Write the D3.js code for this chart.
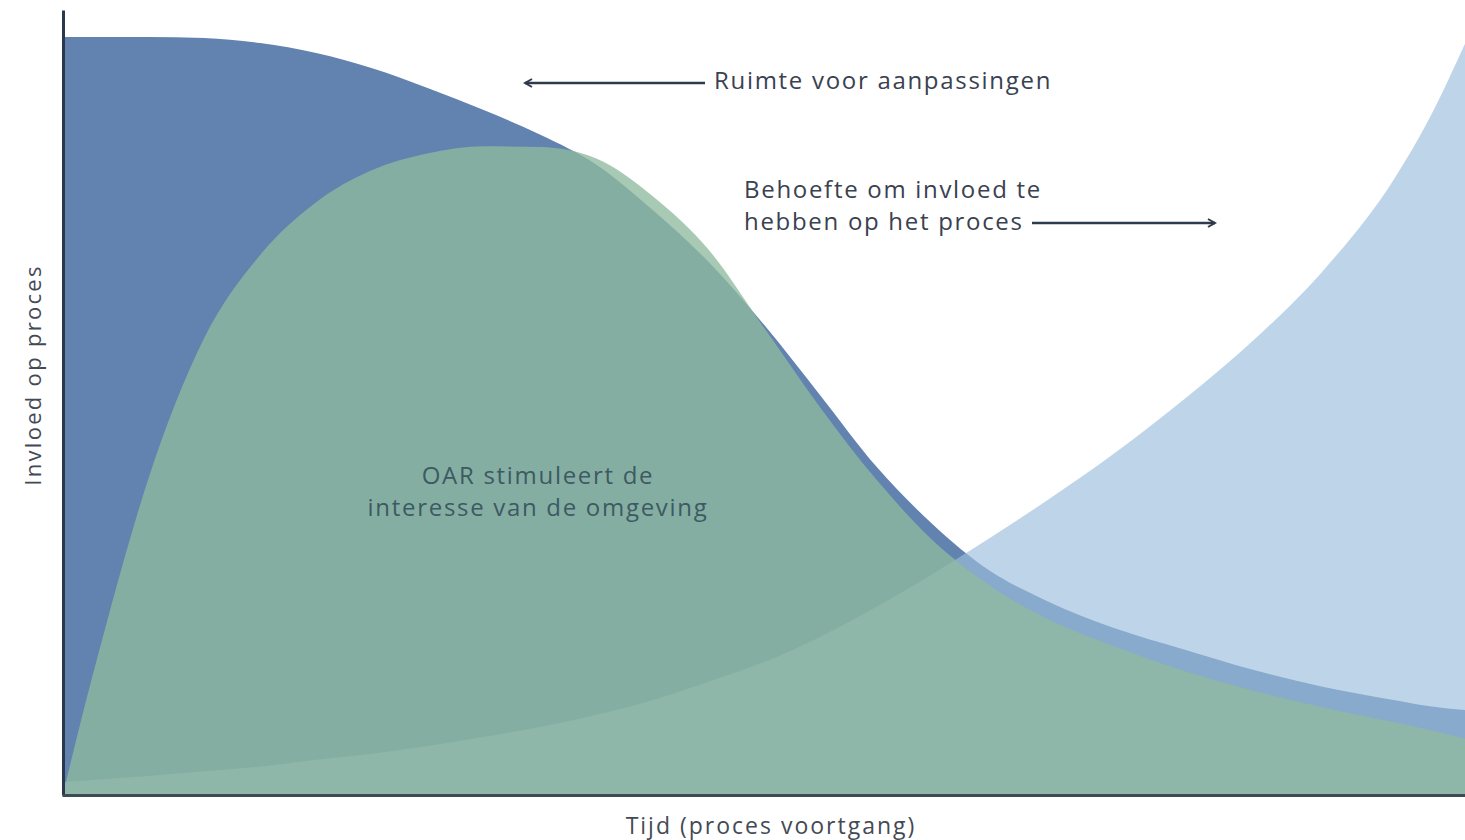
<!DOCTYPE html>
<html>
<head>
<meta charset="utf-8">
<script src="https://cdn.jsdelivr.net/npm/d3@7"></script>
<style>
  body { margin: 0; background: #fff; }
  svg { display: block; }
  text { font-family: "Open Sans", "Noto Sans", sans-serif; }
</style>
</head>
<body>
<div id="chart"></div>
<script>
// process progress (0 = start, 100 = end)
const tijd = [0, 1.5, 3, 6, 10, 14, 18, 22, 26, 30, 34, 38, 42, 46, 50, 54, 58, 62, 66, 70, 75, 80, 85, 90, 95, 97.5, 100]

// room for changes (dark blue)
const ruimte = [99.1, 99.1, 99.1, 99.1, 98.95, 98.3, 97.0, 95.0, 92.4, 89.5, 86.3, 82.4, 76.5, 69.7, 61.4, 52.2, 42.9, 35.4, 29.4, 25.5, 21.8, 19.0, 16.3, 14.1, 12.4, 11.6, 11.1]

// interest stimulated by OAR (green)
const interesse = [0.65, 11.8, 22.2, 41.2, 59.7, 70.6, 77.5, 81.7, 83.9, 84.8, 84.7, 83.2, 78.3, 71.3, 61.0, 50.6, 41.2, 33.3, 27.5, 23.2, 19.4, 16.2, 13.6, 11.4, 9.5, 8.5, 7.4]

// need to influence the process (light blue)
const behoefte = [1.7, 1.9, 2.1, 2.5, 3.1, 3.7, 4.6, 5.4, 6.4, 7.6, 8.9, 10.5, 12.4, 14.8, 17.4, 20.7, 24.6, 28.9, 33.5, 38.3, 44.7, 51.8, 59.6, 68.8, 80.7, 88.6, 98.2]

const width = 1465
const height = 840

const svg = d3.select("#chart")
  .append("svg")
  .attr("width", width)
  .attr("height", height)

const x = d3.scaleLinear().domain([0, 100]).range([64, 1465])
const y = d3.scaleLinear().domain([0, 100]).range([795, 30])

const area_for = (values, curve) => d3.area()
  .x((d, i) => x(tijd[i]))
  .y0(y(0))
  .y1((d) => y(d))
  .curve(curve)(values)

// dark blue bottom layer
svg.append("path")
  .attr("d", area_for(ruimte, d3.curveMonotoneX))
  .style("fill", "#6283b0")

// light blue, see-through
svg.append("path")
  .attr("d", area_for(behoefte, d3.curveMonotoneX))
  .style("fill", "#9cbedc")
  .style("fill-opacity", 0.66)

// green on top
svg.append("path")
  .attr("d", area_for(interesse, d3.curveMonotoneX))
  .style("fill", "#8fba9f")
  .style("fill-opacity", 0.78)

// axes without ticks
const y_axis_scale = y.copy().domain([0, y.invert(10)]).range([795, 10])

const y_axis = svg.append("g")
  .attr("transform", "translate(63,0)")
  .call(d3.axisLeft(y_axis_scale).ticks(0).tickSizeOuter(0))
y_axis.select(".domain")
  .attr("stroke", "#2b3750")
  .attr("stroke-width", 3)

const x_axis = svg.append("g")
  .attr("transform", "translate(0,795)")
  .call(d3.axisBottom(x.copy().range([62, 1465])).ticks(0).tickSizeOuter(0))
x_axis.select(".domain")
  .attr("stroke", "#3d4b55")
  .attr("stroke-width", 3)

// arrow heads
const defs = svg.append("defs")
defs.append("marker")
  .attr("id", "arrow")
  .attr("viewBox", "0 0 10 10")
  .attr("refX", 8)
  .attr("refY", 5)
  .attr("markerWidth", 4)
  .attr("markerHeight", 4)
  .attr("orient", "auto-start-reverse")
  .append("path")
  .attr("d", "M1,1 L8,5 L1,9")
  .style("fill", "none")
  .attr("stroke", "#2f3a4c")
  .attr("stroke-width", 2)

const ink = "#3a4150"

const label = (tx, ty, txt, anchor, color) => {
  svg.append("text")
    .attr("x", tx)
    .attr("y", ty)
    .style("text-anchor", anchor)
    .style("font-size", "24px")
    .style("letter-spacing", "1.7px")
    .style("fill", color)
    .text(txt)
}

// "Ruimte voor aanpassingen" label + arrow pointing left
svg.append("line")
  .attr("x1", 705).attr("y1", 83)
  .attr("x2", 525).attr("y2", 83)
  .attr("stroke", "#2f3a4c")
  .attr("stroke-width", 2.5)
  .attr("marker-end", "url(#arrow)")

label(714, 89, "Ruimte voor aanpassingen", "start", ink)

// "Behoefte..." label + arrow pointing right
label(744, 198, "Behoefte om invloed te", "start", ink)
label(744, 230, "hebben op het proces", "start", ink)

svg.append("line")
  .attr("x1", 1032).attr("y1", 223)
  .attr("x2", 1215).attr("y2", 223)
  .attr("stroke", "#2f3a4c")
  .attr("stroke-width", 2.5)
  .attr("marker-end", "url(#arrow)")

// label inside the green area
label(538, 484, "OAR stimuleert de", "middle", "#3d5a62")
label(538, 516, "interesse van de omgeving", "middle", "#3d5a62")

// axis titles
svg.append("text")
  .attr("x", 771)
  .attr("y", 834)
  .style("text-anchor", "middle")
  .style("font-size", "23px")
  .style("letter-spacing", "2px")
  .style("fill", "#444a55")
  .text("Tijd (proces voortgang)")

svg.append("text")
  .attr("transform", "translate(41,375) rotate(-90)")
  .style("text-anchor", "middle")
  .style("font-size", "22px")
  .style("letter-spacing", "2.3px")
  .style("fill", "#444a55")
  .text("Invloed op proces")
</script>
</body>
</html>
